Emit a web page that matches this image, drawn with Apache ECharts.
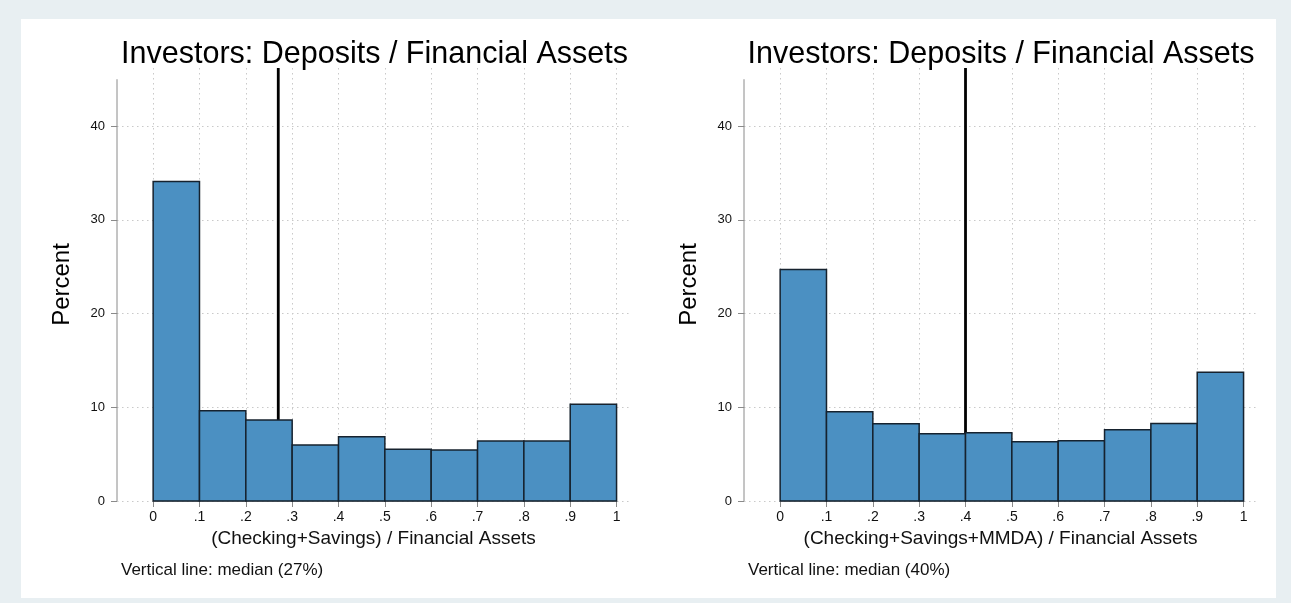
<!DOCTYPE html>
<html>
<head>
<meta charset="utf-8">
<script src="https://cdn.jsdelivr.net/npm/echarts@6/dist/echarts.min.js"></script>
<style>
html,body{margin:0;padding:0;background:#e8eff2;}
#c{width:1291px;height:603px;}
</style>
</head>
<body>
<div id="c"></div>
<script>
// ---- data ----
const binEdges = [0, 0.1, 0.2, 0.3, 0.4, 0.5, 0.6, 0.7, 0.8, 0.9, 1.0];
const leftPercent  = [34.1, 9.63, 8.64, 5.97, 6.86, 5.51, 5.44, 6.40, 6.40, 10.31];
const rightPercent = [24.7, 9.53, 8.25, 7.18, 7.29, 6.33, 6.44, 7.61, 8.28, 13.73];
const leftMedian = 0.27;
const rightMedian = 0.40;
const xTickValues = [0, 0.1, 0.2, 0.3, 0.4, 0.5, 0.6, 0.7, 0.8, 0.9, 1];
const xTickLabels = ['0', '.1', '.2', '.3', '.4', '.5', '.6', '.7', '.8', '.9', '1'];
const yTickValues = [0, 10, 20, 30, 40];
const yTickLabels = ['0', '10', '20', '30', '40'];
const panelTitle = 'Investors: Deposits / Financial Assets';
const leftXName = '(Checking+Savings) / Financial Assets';
const rightXName = '(Checking+Savings+MMDA) / Financial Assets';
const leftNote = 'Vertical line: median (27%)';
const rightNote = 'Vertical line: median (40%)';

// ---- config ----
const X_MIN = -0.078, X_MAX = 1.029, Y_MAX = 46.2, Y_AXIS_TOP = 45;
const FONT = '"Liberation Sans", Arial, Helvetica, sans-serif';
const BAR_FILL = '#4b90c2', BAR_EDGE = '#16222e';
const GRID_COLOR = '#c9c9c9', AXIS_COLOR = '#8a8a8a';

function histData(vals){ return vals.map((v,i)=>[binEdges[i], binEdges[i+1], v]); }

function xFmt(v){ const i = xTickValues.findIndex(t=>Math.abs(t-v)<1e-9); return i>=0 ? xTickLabels[i] : ''; }
function yFmt(v){ const i = yTickValues.findIndex(t=>Math.abs(t-v)<1e-9); return i>=0 ? yTickLabels[i] : ''; }

const grids = [
  {left: 117, top: 68, width: 513, height: 433},
  {left: 744, top: 68, width: 513, height: 433}
];

function xAxis(idx, name){
  return {
    type: 'value', gridIndex: idx, min: X_MIN, max: X_MAX,
    name: name, nameLocation: 'middle', nameGap: 27,
    nameTextStyle: {fontFamily: FONT, fontSize: 19, color: '#111'},
    axisLine: {show: false, onZero: false},
    axisTick: {show: true, length: 6, customValues: xTickValues, lineStyle: {color: AXIS_COLOR, width: 1}},
    axisLabel: {show: true, customValues: xTickValues, formatter: xFmt, margin: 9, fontFamily: FONT, fontSize: 14, color: '#111'},
    splitLine: {show: true, lineStyle: {color: GRID_COLOR, type: [1.5, 3.5], width: 1}}
  };
}
function yAxis(idx){
  return {
    type: 'value', gridIndex: idx, min: 0, max: Y_MAX,
    name: 'Percent', nameLocation: 'middle', nameGap: 43, nameRotate: 90,
    nameTextStyle: {fontFamily: FONT, fontSize: 24, color: '#000'},
    axisLine: {show: false, onZero: false},
    axisTick: {show: true, length: 6, customValues: yTickValues, lineStyle: {color: AXIS_COLOR, width: 1}},
    axisLabel: {show: true, customValues: yTickValues, formatter: yFmt, margin: 12, fontFamily: FONT, fontSize: 13, color: '#111'},
    splitLine: {show: true, lineStyle: {color: GRID_COLOR, type: [1.5, 3.5], width: 1}}
  };
}

function barSeries(idx, vals){
  return {
    type: 'custom', xAxisIndex: idx, yAxisIndex: idx, z: 5,
    data: histData(vals),
    encode: {x: [0, 1], y: 2},
    renderItem: function(params, api){
      const p0 = api.coord([api.value(0), 0]);
      const p1 = api.coord([api.value(1), api.value(2)]);
      return {type: 'rect',
        shape: {x: p0[0], y: p1[1], width: p1[0]-p0[0], height: p0[1]-p1[1]},
        style: {fill: BAR_FILL, stroke: BAR_EDGE, lineWidth: 1.5}};
    },
    clip: false
  };
}
function lineSeries(idx, pts, color, width, z){
  return {type: 'line', xAxisIndex: idx, yAxisIndex: idx, data: pts, symbol: 'none', clip: false,
    silent: true, z: z, lineStyle: {color: color, width: width}, animation: false};
}

const series = [];
[[0, leftPercent, leftMedian], [1, rightPercent, rightMedian]].forEach(([i, vals, med])=>{
  series.push(lineSeries(i, [[X_MIN, 0], [X_MIN, Y_AXIS_TOP]], AXIS_COLOR, 1, 3)); // y axis line
  series.push(lineSeries(i, [[0, 0], [1, 0]], AXIS_COLOR, 1, 3));                 // x axis line
  series.push(lineSeries(i, [[med, 0], [med, Y_MAX]], '#000', 2.8, 4));            // median
  series.push(barSeries(i, vals));
});

const chart = echarts.init(document.getElementById('c'), null, {renderer: 'canvas'});
const titleStyle = {fontFamily: FONT, fontSize: 30.5, fontWeight: 'normal', color: '#000'};
const noteStyle = {fontFamily: FONT, fontSize: 17, fontWeight: 'normal', color: '#111'};
chart.setOption({
  animation: false,
  backgroundColor: '#e8eff2',
  graphic: [{type: 'rect', z: -10, silent: true, shape: {x: 21, y: 19, width: 1255, height: 579}, style: {fill: '#ffffff'}}],
  title: [
    {text: panelTitle, left: 369.5, top: 34, textAlign: 'center', textStyle: titleStyle},
    {text: panelTitle, left: 996, top: 34, textAlign: 'center', textStyle: titleStyle},
    {text: leftNote, left: 116, top: 557, textStyle: noteStyle},
    {text: rightNote, left: 743, top: 557, textStyle: noteStyle}
  ],
  grid: grids,
  xAxis: [xAxis(0, leftXName), xAxis(1, rightXName)],
  yAxis: [yAxis(0), yAxis(1)],
  series: series
});
</script>
</body>
</html>
